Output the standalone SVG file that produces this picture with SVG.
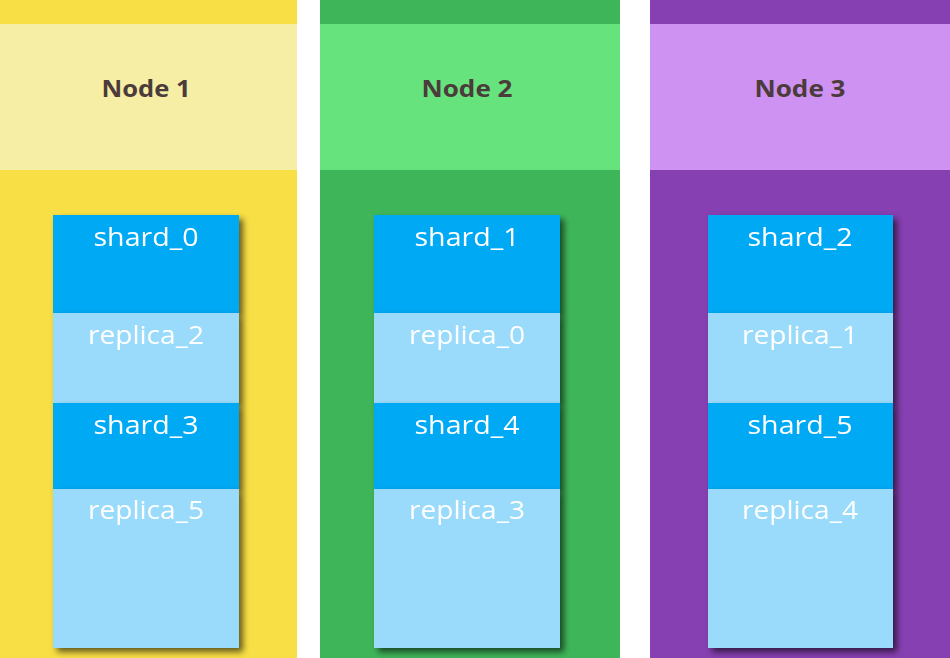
<svg xmlns="http://www.w3.org/2000/svg" width="950" height="658" viewBox="0 0 950 658">
<defs>
<style>
.title{font-family:"Open Sans","Noto Sans",sans-serif;font-weight:bold;font-size:24px;fill:#4b3b3b;text-anchor:middle}
.lbl{font-family:"Open Sans","Noto Sans",sans-serif;font-size:26px;fill:#ffffff;text-anchor:middle}
.shard{fill:#03a9f4}
.replica{fill:#9adbfb}
.blk{filter:url(#sh)}
</style>
<filter id="sh" x="-10%" y="-10%" width="130%" height="130%">
<feDropShadow dx="4" dy="4" stdDeviation="3" flood-color="#000" flood-opacity="0.6"/>
</filter>
</defs>
<rect width="950" height="658" fill="#ffffff"/>
<g id="node1">
<rect x="0" y="0" width="297" height="658" fill="#f8df45"/>
<rect x="0" y="24" width="297" height="146" fill="#f6eea4"/>
<text class="title" x="146" y="97" textLength="89" lengthAdjust="spacingAndGlyphs">Node 1</text>
</g>
<g id="node2">
<rect x="320" y="0" width="300" height="658" fill="#3fb55a"/>
<rect x="320" y="24" width="300" height="146" fill="#66e37d"/>
<text class="title" x="467" y="97" textLength="91" lengthAdjust="spacingAndGlyphs">Node 2</text>
</g>
<g id="node3">
<rect x="650" y="0" width="300" height="658" fill="#8640b1"/>
<rect x="650" y="24" width="300" height="146" fill="#ce92f2"/>
<text class="title" x="800" y="97" textLength="91" lengthAdjust="spacingAndGlyphs">Node 3</text>
</g>
<g id="shard_0" class="blk"><rect class="shard" x="53" y="215" width="186" height="98"/><text class="lbl" x="146" y="246" textLength="105" lengthAdjust="spacingAndGlyphs">shard_0</text></g>
<g id="replica_2" class="blk"><rect class="replica" x="53" y="313" width="186" height="90"/><text class="lbl" x="146" y="344" textLength="116" lengthAdjust="spacingAndGlyphs">replica_2</text></g>
<g id="shard_3" class="blk"><rect class="shard" x="53" y="403" width="186" height="86"/><text class="lbl" x="146" y="434" textLength="105" lengthAdjust="spacingAndGlyphs">shard_3</text></g>
<g id="replica_5" class="blk"><rect class="replica" x="53" y="489" width="186" height="159"/><text class="lbl" x="146" y="519" textLength="116" lengthAdjust="spacingAndGlyphs">replica_5</text></g>
<g id="shard_1" class="blk"><rect class="shard" x="374" y="215" width="186" height="98"/><text class="lbl" x="467" y="246" textLength="105" lengthAdjust="spacingAndGlyphs">shard_1</text></g>
<g id="replica_0" class="blk"><rect class="replica" x="374" y="313" width="186" height="90"/><text class="lbl" x="467" y="344" textLength="116" lengthAdjust="spacingAndGlyphs">replica_0</text></g>
<g id="shard_4" class="blk"><rect class="shard" x="374" y="403" width="186" height="86"/><text class="lbl" x="467" y="434" textLength="105" lengthAdjust="spacingAndGlyphs">shard_4</text></g>
<g id="replica_3" class="blk"><rect class="replica" x="374" y="489" width="186" height="159"/><text class="lbl" x="467" y="519" textLength="116" lengthAdjust="spacingAndGlyphs">replica_3</text></g>
<g id="shard_2" class="blk"><rect class="shard" x="708" y="215" width="185" height="98"/><text class="lbl" x="800" y="246" textLength="105" lengthAdjust="spacingAndGlyphs">shard_2</text></g>
<g id="replica_1" class="blk"><rect class="replica" x="708" y="313" width="185" height="90"/><text class="lbl" x="800" y="344" textLength="116" lengthAdjust="spacingAndGlyphs">replica_1</text></g>
<g id="shard_5" class="blk"><rect class="shard" x="708" y="403" width="185" height="86"/><text class="lbl" x="800" y="434" textLength="105" lengthAdjust="spacingAndGlyphs">shard_5</text></g>
<g id="replica_4" class="blk"><rect class="replica" x="708" y="489" width="185" height="159"/><text class="lbl" x="800" y="519" textLength="116" lengthAdjust="spacingAndGlyphs">replica_4</text></g>
<g id="connectors"></g>
</svg>
